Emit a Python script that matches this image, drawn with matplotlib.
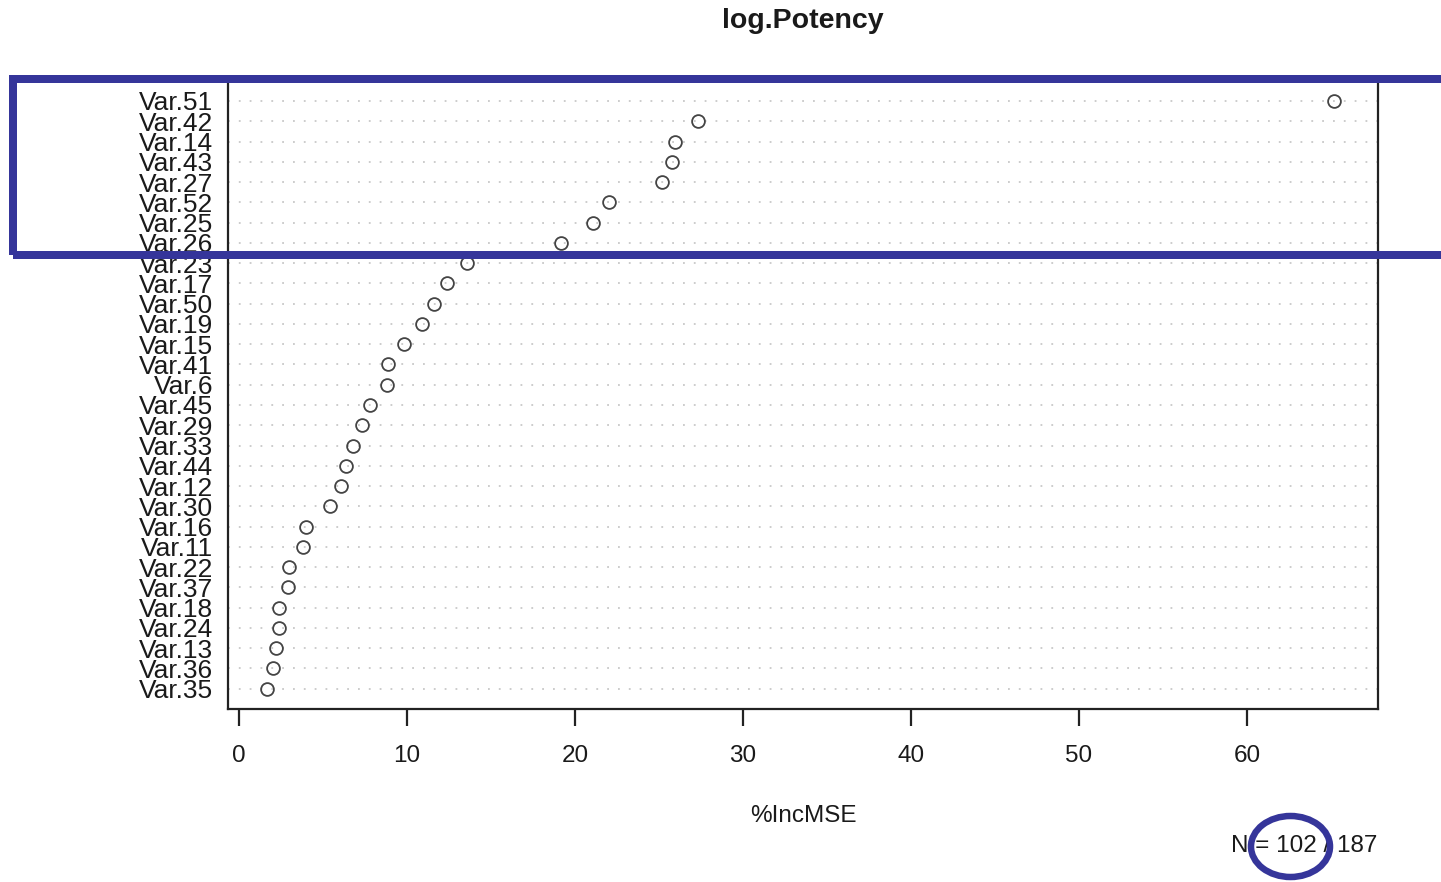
import matplotlib
matplotlib.use("Agg")
import matplotlib.pyplot as plt
from matplotlib.patches import Rectangle, Ellipse

plt.rcParams['font.family'] = ['Liberation Sans', 'DejaVu Sans']

title = "log.Potency"
xlabel = "%IncMSE"
note = "N = 102 / 187"

variables = ["Var.51", "Var.42", "Var.14", "Var.43", "Var.27", "Var.52", "Var.25", "Var.26",
             "Var.23", "Var.17", "Var.50", "Var.19", "Var.15", "Var.41", "Var.6", "Var.45",
             "Var.29", "Var.33", "Var.44", "Var.12", "Var.30", "Var.16", "Var.11", "Var.22",
             "Var.37", "Var.18", "Var.24", "Var.13", "Var.36", "Var.35"]
inc_mse = [65.2, 27.3, 25.95, 25.8, 25.2, 22.0, 21.1, 19.2,
           13.6, 12.4, 11.6, 10.9, 9.8, 8.9, 8.8, 7.8,
           7.3, 6.8, 6.4, 6.1, 5.4, 4.0, 3.8, 3.0,
           2.9, 2.4, 2.4, 2.2, 2.0, 1.7]
xticks = [0, 10, 20, 30, 40, 50, 60]

W, H = 1441, 882
fig = plt.figure(figsize=(W / 100, H / 100), dpi=100)
ax = fig.add_axes([228 / W, 1 - 709 / H, (1378 - 228) / W, (709 - 80.7) / H])

n = len(variables)
ypos = list(range(n, 0, -1))

for y in ypos:
    ax.axhline(y, color='#c8c8c8', linestyle=(0, (1, 5)), linewidth=1.3, zorder=1)
ax.plot(inc_mse, ypos, linestyle='none', marker='o', markersize=9.2,
        markerfacecolor='none', markeredgecolor='#444444', markeredgewidth=1.3, zorder=3)

ax.set_xlim(-0.65, 67.8)
ax.set_ylim(0, n + 1)
ax.set_yticks(ypos)
ax.set_yticklabels(variables, fontsize=19, color='#1a1a1a')
ax.tick_params(axis='y', length=0, pad=10.5)
ax.set_xticks(xticks)
ax.set_xticklabels([str(t) for t in xticks], fontsize=17.5, color='#1a1a1a')
ax.tick_params(axis='x', length=12, width=1.6, pad=14, color='#222222', direction='out')
for s in ax.spines.values():
    s.set_linewidth(1.6)
    s.set_color('#222222')

fig.text(803 / W, 1 - 21 / H, title, ha='center', va='center', fontsize=20.5,
         fontweight='bold', color='#1a1a1a')
fig.text(803 / W, 1 - 816 / H, xlabel, ha='center', va='center', fontsize=17.5, color='#1a1a1a')
fig.text(1377 / W, 1 - 846 / H, note, ha='right', va='center', fontsize=17.5, color='#1a1a1a')

blue = '#35359a'
lw_pt = 8 * 72 / 100
rect = Rectangle((12.5 / W, 1 - 254.5 / H), (1460 - 12.5) / W, (254.5 - 79) / H,
                 transform=fig.transFigure, fill=False, edgecolor=blue, linewidth=lw_pt,
                 zorder=10, clip_on=False)
fig.add_artist(rect)
ell = Ellipse((1290.5 / W, 1 - 846.5 / H), 79 / W, 61 / H, transform=fig.transFigure,
              fill=False, edgecolor=blue, linewidth=6.5 * 72 / 100, zorder=10, clip_on=False)
fig.add_artist(ell)

fig.savefig("out.png", dpi=100)
